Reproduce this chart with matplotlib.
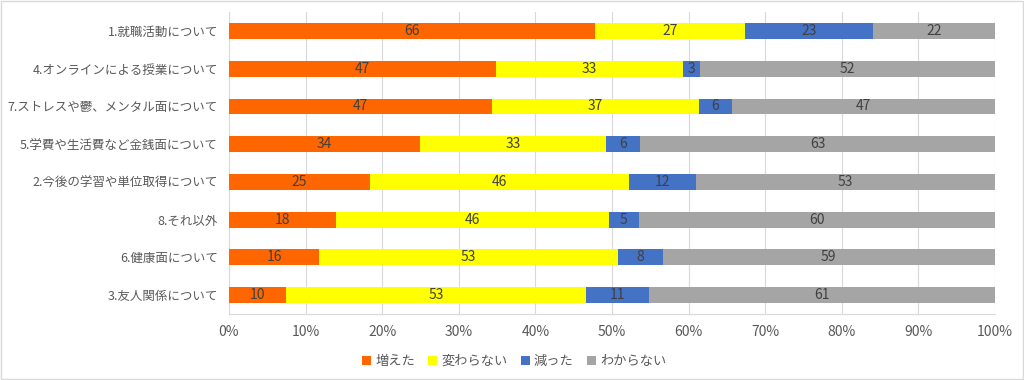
import matplotlib.pyplot as plt
from matplotlib.ticker import PercentFormatter

plt.rcParams['font.family'] = ['Noto Sans CJK JP', 'DejaVu Sans']

# categories, top to bottom
cats = ["1.就職活動について", "4.オンラインによる授業について", "7.ストレスや鬱、メンタル面について",
        "5.学費や生活費など金銭面について", "2.今後の学習や単位取得について", "8.それ以外",
        "6.健康面について", "3.友人関係について"]
increased = [66, 47, 47, 34, 25, 18, 16, 10]
same = [27, 33, 37, 33, 46, 46, 53, 53]
decreased = [23, 3, 6, 6, 12, 5, 8, 11]
unknown = [22, 52, 47, 63, 53, 60, 59, 61]

series = [("増えた", increased, "#FF6600"),
          ("変わらない", same, "#FFFF00"),
          ("減った", decreased, "#4472C4"),
          ("わからない", unknown, "#A5A5A5")]

totals = [sum(v) for v in zip(increased, same, decreased, unknown)]
ypos = list(range(len(cats)))[::-1]

fig = plt.figure(figsize=(10.24, 3.8), dpi=100)
ax = fig.add_axes([0.2236, 0.174, 0.748, 0.794])

left = [0.0] * len(cats)
for name, vals, col in series:
    w = [v / t for v, t in zip(vals, totals)]
    ax.barh(ypos, w, left=left, height=0.42, color=col, label=name, zorder=3)
    for y, l, ww, v in zip(ypos, left, w, vals):
        ax.text(l + ww / 2, y, str(v), ha='center', va='center',
                fontsize=10, color='#404040', zorder=4)
    left = [a + b for a, b in zip(left, w)]

ax.set_xlim(0, 1)
ax.set_ylim(-0.5, len(cats) - 0.5)
ax.set_xticks([i / 10 for i in range(11)])
ax.xaxis.set_major_formatter(PercentFormatter(1.0, decimals=0))
ax.set_yticks(ypos)
ax.set_yticklabels(cats)
ax.tick_params(axis='both', length=0, colors='#595959', pad=8)
ax.tick_params(axis='x', labelsize=10)
ax.tick_params(axis='y', labelsize=9)
ax.grid(axis='x', color='#D9D9D9', linewidth=0.8, zorder=0)
for s in ax.spines.values():
    s.set_visible(False)
ax.spines['left'].set_visible(True)
ax.spines['left'].set_color('#D9D9D9')
ax.spines['bottom'].set_visible(True)
ax.spines['bottom'].set_color('#D9D9D9')

fig.legend(loc='lower center', bbox_to_anchor=(0.502, 0.0), ncol=4, frameon=False,
           fontsize=9.5, labelcolor='#595959', handlelength=0.7, handleheight=0.7,
           handletextpad=0.3, columnspacing=1.0)

fig.patches.append(plt.Rectangle((0.001, 0.002), 0.998, 0.996, transform=fig.transFigure,
                                 fill=False, edgecolor='#D9D9D9', linewidth=1))

fig.savefig("out.png", dpi=100)
